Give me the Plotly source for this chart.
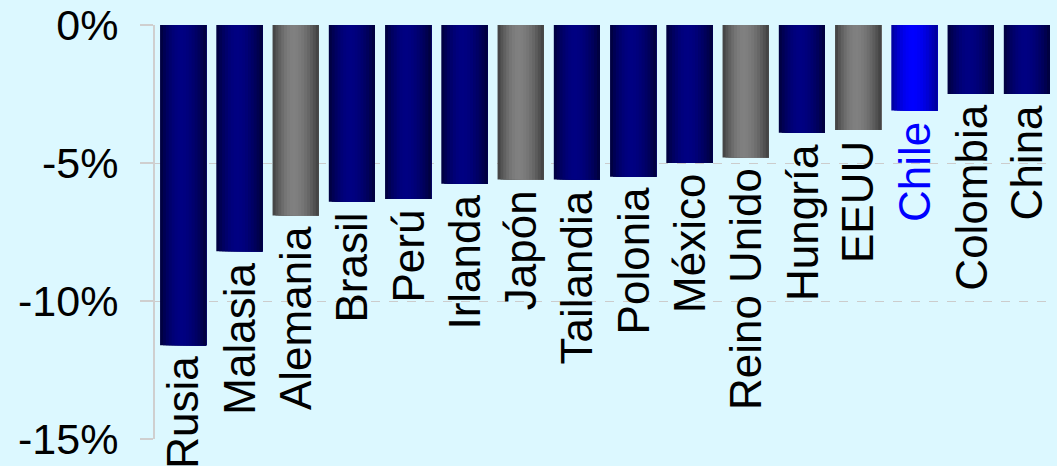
import plotly.graph_objects as go

# Países y variación (%)
paises = ["Rusia", "Malasia", "Alemania", "Brasil", "Perú", "Irlanda", "Japón",
          "Tailandia", "Polonia", "México", "Reino Unido", "Hungría", "EEUU",
          "Chile", "Colombia", "China"]
variacion = [-11.6, -8.2, -6.9, -6.4, -6.3, -5.75, -5.6, -5.6, -5.5, -5.0,
             -4.8, -3.9, -3.8, -3.1, -2.5, -2.5]
grupo = ["emergente", "emergente", "desarrollado", "emergente", "emergente",
         "emergente", "desarrollado", "emergente", "emergente", "emergente",
         "desarrollado", "emergente", "desarrollado", "chile", "emergente",
         "emergente"]

y_ticks = [0, -5, -10, -15]
y_tick_text = ["0%", "-5%", "-10%", "-15%"]

# Color oscuro (borde) y claro (centro) de cada grupo
paleta = {
    "emergente": ((0, 0, 58), (0, 0, 130)),
    "desarrollado": ((62, 62, 62), (128, 128, 128)),
    "chile": ((0, 0, 150), (0, 0, 255)),
}
color_texto = {"emergente": "#000000", "desarrollado": "#000000", "chile": "#0000FF"}

FONDO = "#DCF8FF"
FUENTE = "Arial, Liberation Sans, sans-serif"

ANCHO = 0.82      # ancho de barra en unidades de categoría
N_FRANJAS = 16    # franjas verticales para el degradado
PICO = 0.45       # posición relativa del brillo máximo


def brillo(t):
    # 0 en los bordes, 1 en el pico
    if t <= PICO:
        u = t / PICO
    else:
        u = (1 - t) / (1 - PICO)
    return 1 - (1 - u) ** 1.8


def mezcla(a, b, f):
    return "rgb({},{},{})".format(*[round(a[i] + (b[i] - a[i]) * f) for i in range(3)])


fig = go.Figure()
paso = ANCHO / N_FRANJAS
# Cada franja cubre desde su borde izquierdo hasta el borde derecho de la
# barra; la siguiente se dibuja encima, así no quedan rendijas entre franjas.
for k in range(N_FRANJAS):
    t = (k + 0.5) / N_FRANJAS
    f = brillo(t)
    colores = [mezcla(paleta[g][0], paleta[g][1], f) for g in grupo]
    fig.add_trace(go.Bar(
        x=paises, y=variacion,
        width=ANCHO - k * paso, offset=-ANCHO / 2 + k * paso,
        marker=dict(color=colores, line=dict(width=0)),
        hoverinfo="skip", showlegend=False,
    ))

# Etiquetas verticales bajo cada barra
for p, v, g in zip(paises, variacion, grupo):
    fig.add_annotation(
        x=p, y=v, text=p, textangle=-90, showarrow=False,
        xanchor="center", yanchor="top", yshift=-9,
        font=dict(family=FUENTE, size=44, color=color_texto[g]),
    )

fig.update_layout(
    width=1057, height=466,
    margin=dict(l=155, r=2, t=25, b=27),
    paper_bgcolor=FONDO, plot_bgcolor=FONDO,
    barmode="overlay",
    font=dict(family=FUENTE, color="#000000"),
    xaxis=dict(
        range=[-0.5, len(paises) - 0.5], showticklabels=False,
        showgrid=False, zeroline=False, showline=False, ticks="",
    ),
    yaxis=dict(
        range=[-15, 0], tickvals=y_ticks, ticktext=y_tick_text,
        tickfont=dict(family=FUENTE, size=43, color="#000000"),
        ticks="outside", ticklen=13, tickwidth=2, tickcolor="#CFCFCF",
        ticklabelstandoff=13, ticklabeloverflow="allow",
        showline=True, linecolor="#CFCFCF", linewidth=2,
        showgrid=True, gridcolor="#CCCCCC", gridwidth=1, griddash="dash",
        zeroline=False,
    ),
)

fig.write_html("out.html")
